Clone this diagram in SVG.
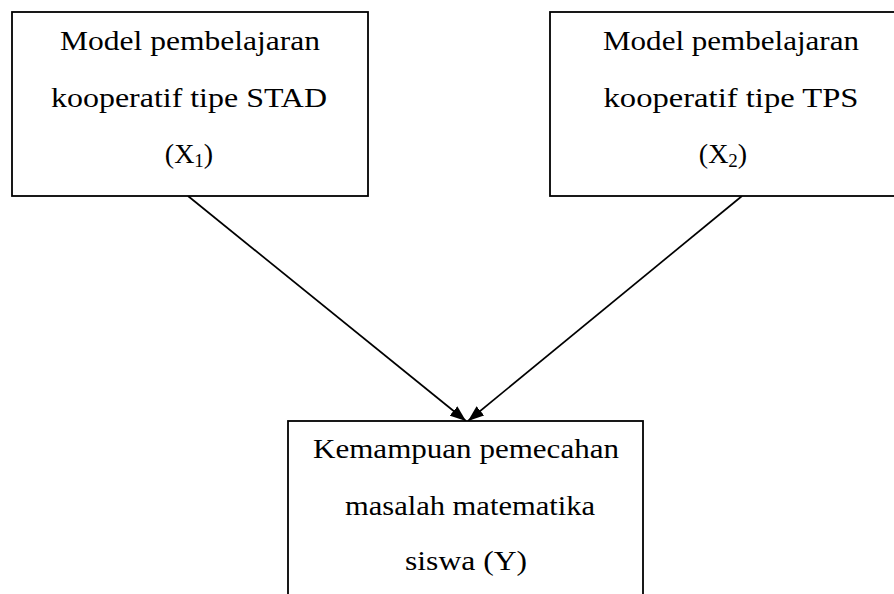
<svg xmlns="http://www.w3.org/2000/svg" width="894" height="594" viewBox="0 0 894 594">
<style>
.box{fill:#fff;stroke:#000;stroke-width:1.8}
.t{font-family:"Liberation Serif","Times New Roman",serif;font-size:28px;fill:#000;text-anchor:middle}
.c{stroke:#000;stroke-width:1.7;fill:none}
</style>
<defs>
<marker id="ah" viewBox="0 0 16 12" refX="16" refY="6" markerWidth="16" markerHeight="12" markerUnits="userSpaceOnUse" orient="auto">
<path d="M0,0 L16,6 L0,12 Z" fill="#000"/>
</marker>
</defs>
<rect width="894" height="594" fill="#fff"/>
<g id="connectors">
<line class="c" x1="188" y1="196" x2="466" y2="421" marker-end="url(#ah)"/>
<line class="c" x1="742" y1="196" x2="468" y2="421" marker-end="url(#ah)"/>
</g>
<g id="node-x1">
<rect class="box" x="12" y="12" width="356" height="184"/>
<text class="t" x="190" y="50" textLength="260" lengthAdjust="spacingAndGlyphs">Model pembelajaran</text>
<text class="t" x="189" y="107" textLength="276" lengthAdjust="spacingAndGlyphs">kooperatif tipe STAD</text>
<text class="t" x="189" y="163">(X<tspan font-size="19" dy="4">1</tspan><tspan dy="-4">)</tspan></text>
</g>
<g id="node-x2">
<rect class="box" x="550" y="12" width="360" height="184"/>
<text class="t" x="731" y="50" textLength="256" lengthAdjust="spacingAndGlyphs">Model pembelajaran</text>
<text class="t" x="731" y="107" textLength="255" lengthAdjust="spacingAndGlyphs">kooperatif tipe TPS</text>
<text class="t" x="723" y="163">(X<tspan font-size="19" dy="4">2</tspan><tspan dy="-4">)</tspan></text>
</g>
<g id="node-y">
<rect class="box" x="288" y="421" width="355" height="200"/>
<text class="t" x="466" y="458" textLength="306" lengthAdjust="spacingAndGlyphs">Kemampuan pemecahan</text>
<text class="t" x="470" y="515" textLength="250" lengthAdjust="spacingAndGlyphs">masalah matematika</text>
<text class="t" x="466" y="570" textLength="122" lengthAdjust="spacingAndGlyphs">siswa (Y)</text>
</g>
</svg>
